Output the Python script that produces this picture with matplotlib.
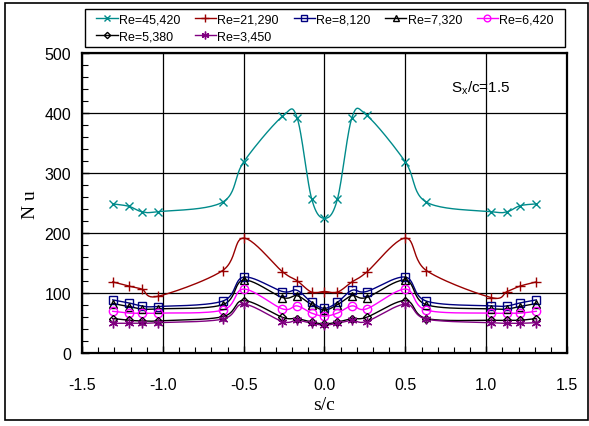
import numpy as np
import matplotlib.pyplot as plt
from matplotlib.lines import Line2D

# positions along the surface (shared by all runs)
s_c = [-1.31, -1.21, -1.13, -1.03, -0.63, -0.5, -0.26, -0.17, -0.08, 0.0,
       0.08, 0.17, 0.26, 0.5, 0.63, 1.03, 1.13, 1.21, 1.31]

nu_45420 = [249, 245, 236, 236, 252, 319, 395, 393, 258, 225, 257, 393, 397, 319, 252, 236, 236, 246, 249]
nu_21290 = [119, 112, 107, 95, 138, 192, 136, 121, 102, 103, 102, 119, 135, 192, 138, 93, 103, 112, 119]
nu_8120 = [89, 84, 79, 78, 87, 127, 103, 105, 85, 75, 85, 105, 103, 127, 87, 79, 79, 84, 89]
nu_7320 = [83, 78, 74, 74, 81, 122, 93, 96, 81, 72, 81, 96, 93, 122, 81, 74, 74, 78, 83]
nu_6420 = [70, 67, 67, 67, 72, 107, 74, 79, 67, 62, 67, 79, 74, 107, 72, 67, 67, 67, 70]
nu_5380 = [58, 55, 54, 54, 61, 88, 60, 58, 52, 49, 52, 58, 60, 88, 58, 55, 55, 55, 58]
nu_3450 = [50, 50, 50, 51, 57, 82, 53, 55, 50, 47, 50, 55, 53, 82, 57, 51, 50, 50, 51]

labels = ['Re=45,420', 'Re=21,290', 'Re=8,120', 'Re=7,320', 'Re=6,420', 'Re=5,380', 'Re=3,450']
series = [nu_45420, nu_21290, nu_8120, nu_7320, nu_6420, nu_5380, nu_3450]
colors = ['#008B8B', '#990000', '#000080', 'black', '#FF00FF', 'black', '#800080']
markers = ['x', '+', 's', '^', 'o', 'D', (6, 2, 0)]
msizes = [6, 7, 6, 6, 6, 4, 7]


def smooth(x, y, n=24):
    # Excel-like smoothed line: Catmull-Rom through the points, in screen-ish units
    p = np.column_stack([np.asarray(x) * 162.0, np.asarray(y) * 0.6])
    p = np.vstack([p[0], p, p[-1]])
    out = []
    t = np.linspace(0, 1, n, endpoint=False)[:, None]
    for i in range(1, len(p) - 2):
        p0, p1, p2, p3 = p[i - 1], p[i], p[i + 1], p[i + 2]
        c1 = p1 + (p2 - p0) / 6.0
        c2 = p2 - (p3 - p1) / 6.0
        seg = ((1 - t) ** 3) * p1 + 3 * ((1 - t) ** 2) * t * c1 + 3 * (1 - t) * t ** 2 * c2 + t ** 3 * p2
        out.append(seg)
    out.append(p[-2][None, :])
    out = np.vstack(out)
    return out[:, 0] / 162.0, out[:, 1] / 0.6


plt.rcParams['font.family'] = ['Liberation Sans', 'DejaVu Sans']

fig = plt.figure(figsize=(5.89, 4.27), dpi=100)
ax = fig.add_axes([82 / 589, 1 - 354.3 / 427, (567 - 82) / 589, 300 / 427])

handles = []
for y, lab, c, m, ms in zip(series, labels, colors, markers, msizes):
    xs, ys = smooth(s_c, y)
    ax.plot(xs, ys, color=c, lw=1.0, zorder=3)
    face = 'none'
    ax.plot(s_c, y, ls='none', marker=m, ms=ms, mec=c, mfc=face, mew=1.0, zorder=4)
    handles.append(Line2D([], [], color=c, lw=1.0, marker=m, ms=ms * 0.8, mec=c, mfc=face, mew=1.0))

ax.set_xlim(-1.5, 1.5)
ax.set_ylim(0, 500)
ax.set_xticks(np.arange(-1.5, 1.51, 0.5))
ax.set_xticklabels(['-1.5', '-1.0', '-0.5', '0.0', '0.5', '1.0', '1.5'])
ax.set_xticks(np.arange(-1.5, 1.51, 0.1), minor=True)
ax.set_yticks(np.arange(0, 501, 100))
ax.set_yticks(np.arange(0, 501, 20), minor=True)
ax.tick_params(which='both', direction='in', labelsize=11.5, top=False, right=False)
ax.tick_params(which='major', length=5, width=1, pad=8)
ax.tick_params(axis='x', which='major', pad=17)
ax.tick_params(which='minor', length=4, width=0.8)
ax.grid(True, which='major', color='black', lw=0.9)
for sp in ax.spines.values():
    sp.set_linewidth(1.6)

ax.set_xlabel('s/c', family='Liberation Serif', fontsize=14, labelpad=3)
ax.set_ylabel('N u', family='Liberation Serif', fontsize=14, labelpad=4)
ax.text(0.78, 444, r'$\mathregular{S_x}$/c=1.5', fontsize=11, va='center', ha='left')

# legend is filled column by column, so reorder to read row by row
order = [0, 5, 1, 6, 2, 3, 4]
fig.legend([handles[i] for i in order], [labels[i] for i in order], ncol=5, loc='center',
           bbox_to_anchor=(95 / 589, 1 - 47 / 427, (555 - 95) / 589, 36 / 427),
           mode='expand', fontsize=9, frameon=False, borderpad=0.1, labelspacing=0.35,
           handlelength=1.7, handletextpad=0.1, borderaxespad=0)
# legend frame
fig.add_artist(plt.Rectangle((85 / 589, 1 - 47.7 / 427), 480 / 589, 37.7 / 427,
                             transform=fig.transFigure, fill=False, edgecolor='black', lw=1.0))

# outer chart border
fig.add_artist(plt.Rectangle((5 / 589, 6 / 427), 583 / 589, 417 / 427, transform=fig.transFigure,
                             fill=False, edgecolor='black', lw=1.2))

fig.savefig('out.png', dpi=100)
